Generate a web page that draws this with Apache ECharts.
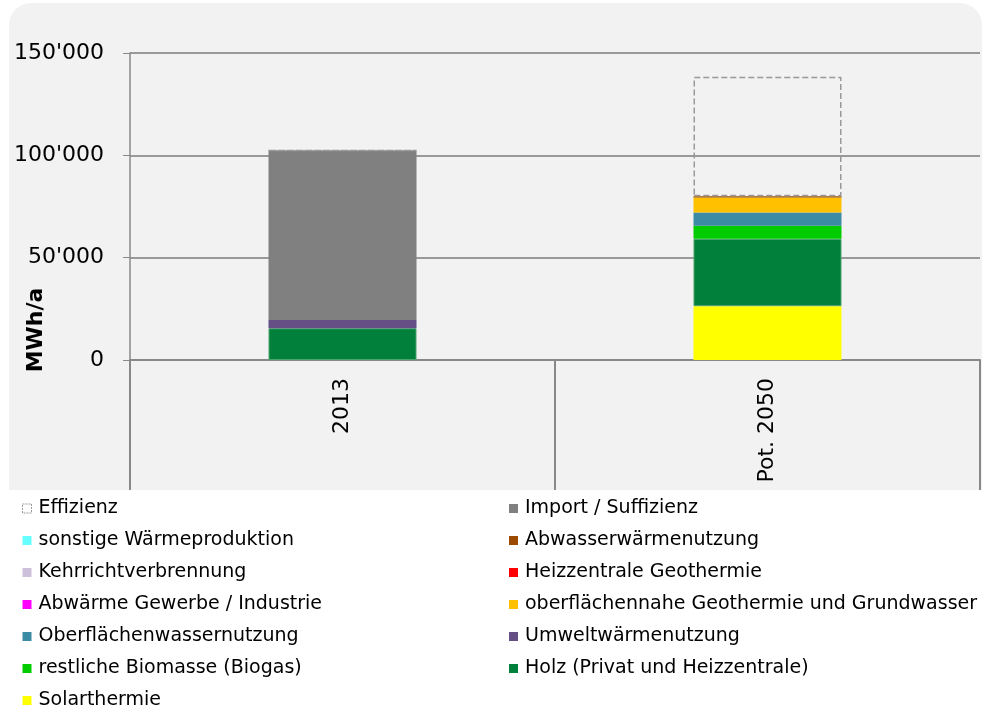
<!DOCTYPE html>
<html lang="de">
<head>
    <meta charset="UTF-8">
    <title>Wärmeproduktion 2013 / Pot. 2050</title>
    <script type="text/javascript" src="https://cdn.jsdelivr.net/npm/echarts@6/dist/echarts.min.js"></script>
    <style>
        html, body { margin: 0; padding: 0; background: #fff; }
    </style>
</head>
<body>
  <div id="main" style="width: 982px;height: 711px;"></div>
</body>
<script>
    // Kategorien und Werte (MWh/a), von unten nach oben gestapelt
    var categories = ['2013', 'Pot. 2050'];
    var yTicks = [0, 50000, 100000, 150000];

    var solarthermie = [0, 26300];
    var holz = [15500, 32900];
    var biomasse = [0, 6400];
    var umwelt = [4000, 0];
    var oberflaeche = [0, 6500];
    var oberflaechennah = [0, 7300];
    var abwaerme = [0, 0];
    var heizzentrale = [0, 0];
    var kehricht = [0, 0];
    var abwasser = [0, 600];
    var sonstige = [0, 0];
    var importSuff = [82900, 0];
    var effizienz = [0, 58400];

    var legendLeft = ['Effizienz', 'sonstige Wärmeproduktion', 'Kehrrichtverbrennung', 'Abwärme Gewerbe / Industrie',
        'Oberflächenwassernutzung', 'restliche Biomasse (Biogas)', 'Solarthermie'];
    var legendRight = ['Import / Suffizienz', 'Abwasserwärmenutzung', 'Heizzentrale Geothermie',
        'oberflächennahe Geothermie und Grundwasser', 'Umweltwärmenutzung', 'Holz (Privat und Heizzentrale)'];

    var myChart = echarts.init(document.getElementById('main'));
    var font = 'DejaVu Sans, sans-serif';

    function bar(name, data, color, extra) {
        var s = {
            name: name,
            type: 'bar',
            stack: 'total',
            barWidth: 148,
            data: data,
            itemStyle: { color: color },
            emphasis: { disabled: true }
        };
        if (extra) { s.itemStyle = extra; }
        return s;
    }

    function legendData(names) {
        return names.map(function (n) {
            if (n === 'Effizienz') {
                return { name: n, itemStyle: { color: 'transparent', borderColor: '#999', borderType: [2, 1], borderWidth: 1 } };
            }
            return { name: n, itemStyle: { borderWidth: 0 } };
        });
    }

    var legendCommon = {
        orient: 'vertical',
        top: 499,
        height: 212,
        padding: 0,
        itemWidth: 9,
        itemHeight: 9,
        itemGap: 13,
        icon: 'rect',
        selectedMode: false,
        textStyle: { fontFamily: font, fontSize: 19, lineHeight: 19, color: '#000', padding: [0, 0, 0, 2] }
    };

    var option = {
        animation: false,
        graphic: [{
            type: 'rect',
            z: -10,
            shape: { x: 9, y: 3, width: 973, height: 487, r: [22, 22, 0, 0] },
            style: { fill: '#f2f2f2' },
            silent: true
        }, {
            type: 'text',
            x: 36,
            y: 330,
            rotation: Math.PI / 2,
            style: {
                text: 'MWh/a',
                fontFamily: font,
                fontSize: 22,
                fontWeight: 'bold',
                fill: '#000',
                align: 'center',
                verticalAlign: 'middle'
            }
        }],
        legend: [
            Object.assign({}, legendCommon, { left: 22, data: legendData(legendLeft) }),
            Object.assign({}, legendCommon, { left: 509, data: legendData(legendRight) })
        ],
        grid: { left: 130, right: 2, top: 53, bottom: 351 },
        xAxis: {
            type: 'category',
            data: categories,
            axisLine: { lineStyle: { color: '#888', width: 2 } },
            axisTick: { show: true, length: 130, interval: 0, lineStyle: { color: '#888', width: 2 } },
            axisLabel: { rotate: 90, margin: 18, fontFamily: font, fontSize: 22, color: '#000' }
        },
        yAxis: {
            type: 'value',
            min: yTicks[0],
            max: yTicks[yTicks.length - 1],
            interval: yTicks[1] - yTicks[0],
            axisLine: { show: true, lineStyle: { color: '#888', width: 1.5 } },
            axisTick: { show: true, length: 7, lineStyle: { color: '#888' } },
            splitLine: { lineStyle: { color: '#999', width: 2 } },
            axisLabel: {
                margin: 26,
                fontFamily: font,
                fontSize: 22,
                color: '#000',
                formatter: function (v) {
                    return String(v).replace(/\B(?=(\d{3})+(?!\d))/g, "'");
                }
            }
        },
        series: [
            bar('Solarthermie', solarthermie, '#ffff00'),
            bar('Holz (Privat und Heizzentrale)', holz, '#00803a', { color: '#00803a', borderColor: '#4aa46e', borderWidth: 1 }),
            bar('restliche Biomasse (Biogas)', biomasse, '#00cc00'),
            bar('Umweltwärmenutzung', umwelt, '#654f85'),
            bar('Oberflächenwassernutzung', oberflaeche, '#3a8ba3'),
            bar('Abwärme Gewerbe / Industrie', abwaerme, '#ff00ff'),
            bar('oberflächennahe Geothermie und Grundwasser', oberflaechennah, '#ffc000'),
            bar('Heizzentrale Geothermie', heizzentrale, '#ff0000'),
            bar('Kehrrichtverbrennung', kehricht, '#ccc0da'),
            bar('Abwasserwärmenutzung', abwasser, '#9c4a00'),
            bar('sonstige Wärmeproduktion', sonstige, '#66ffff'),
            bar('Import / Suffizienz', importSuff, '#808080'),
            bar('Effizienz', effizienz, 'transparent', { color: 'transparent', borderColor: '#999', borderWidth: 1.5, borderType: [6, 3] })
        ]
    };

    myChart.setOption(option);
</script>
</html>
